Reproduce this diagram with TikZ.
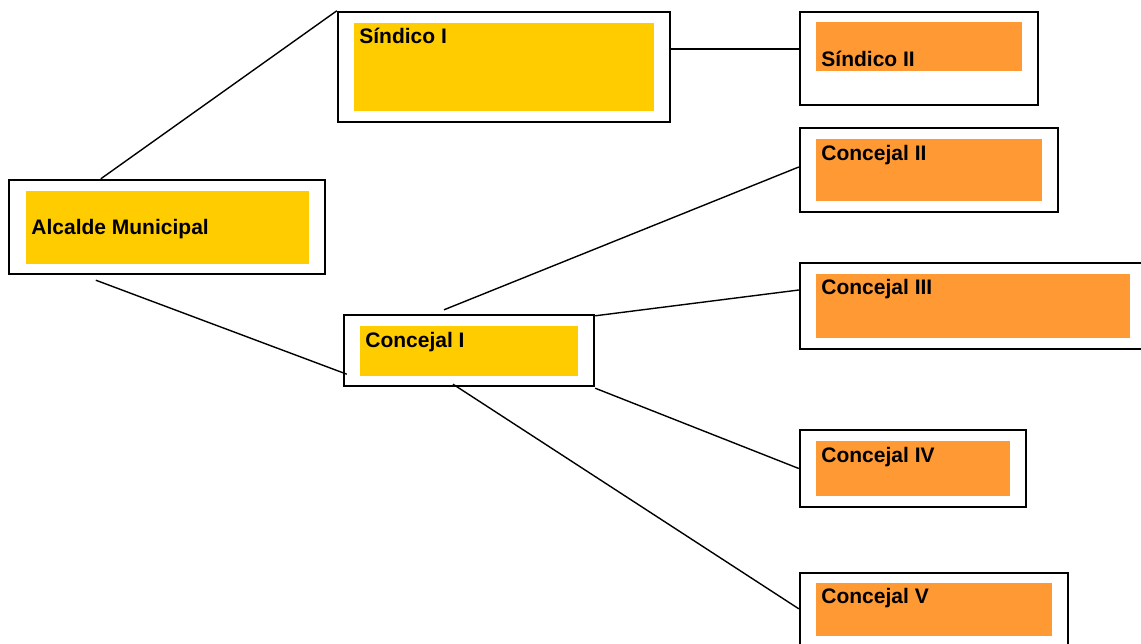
\documentclass[tikz,border=0pt]{standalone}
\usepackage{fontspec}
\setmainfont{Liberation Sans}
\usetikzlibrary{fit}

\definecolor{amarillo}{HTML}{FFCC00}
\definecolor{naranja}{HTML}{FF9933}

\tikzset{
  marco/.style={draw, line width=1.2pt, inner sep=0pt},
  relleno/.style={inner sep=0pt},
  rotulo/.style={anchor=base west, inner sep=0pt, font=\fontsize{10.5}{12}\selectfont\bfseries},
  linea/.style={line width=0.7pt}
}

\begin{document}
\begin{tikzpicture}[x=0.5pt,y=-0.5pt]

\useasboundingbox (0,0) rectangle (1141,643);
%	\draw[red] (0,0) rectangle (1141,643);

% alcalde y sindicos
\node[marco, fit={(9,180) (325,274)}] (alc) {};
\node[relleno, fill=amarillo, fit={(26,191) (309,264)}] (alcf) {};
\node[rotulo] (alct) at (31,234) {Alcalde Municipal};

\node[marco, fit={(338,12) (670,122)}] (sin1) {};
\node[relleno, fill=amarillo, fit={(354,23) (654,111)}] (sin1f) {};
\node[rotulo] (sin1t) at (359,43) {Síndico I};

\node[marco, fit={(800,12) (1038,105)}] (sin2) {};
\node[relleno, fill=naranja, fit={(816,22) (1022,71)}] (sin2f) {};
\node[rotulo] (sin2t) at (821,66) {Síndico II};

% concejales
\node[marco, fit={(344,315) (594,386)}] (con1) {};
\node[relleno, fill=amarillo, fit={(360,326) (578,376)}] (con1f) {};
\node[rotulo] (con1t) at (365,347) {Concejal I};

\node[marco, fit={(800,128) (1058,212)}] (con2) {};
\node[relleno, fill=naranja, fit={(816,139) (1042,201)}] (con2f) {};
\node[rotulo] (con2t) at (821,160) {Concejal II};

\node[marco, fit={(800,263) (1143,349)}] (con3) {};
\node[relleno, fill=naranja, fit={(816,274) (1130,338)}] (con3f) {};
\node[rotulo] (con3t) at (821,294) {Concejal III};

\node[marco, fit={(800,430) (1026,507)}] (con4) {};
\node[relleno, fill=naranja, fit={(816,441) (1010,496)}] (con4f) {};
\node[rotulo] (con4t) at (821,462) {Concejal IV};

\node[marco, fit={(800,573) (1068,650)}] (con5) {};
\node[relleno, fill=naranja, fit={(816,583) (1052,636)}] (con5f) {};
\node[rotulo] (con5t) at (821,603) {Concejal V};

% lineas
\draw[linea] ([xshift=46.5pt]alc.north west) -- (sin1.north west);
\draw[linea] ([xshift=44pt,yshift=-2.5pt]alc.south west) -- ([xshift=2pt,yshift=6.5pt]con1.south west);
\draw[linea] ([yshift=-19pt]sin1.north east) -- ([yshift=-19pt]sin2.north west);

\draw[linea] ([xshift=-12.5pt,yshift=2pt]con1.north) -- ([yshift=1.5pt]con2.west);
\draw[linea] ([yshift=-1pt]con1.north east) -- ([yshift=8pt]con3.west);
\draw[linea] ([yshift=-0.5pt]con1.south east) -- (con4.west);
\draw[linea] ([xshift=-8pt,yshift=1.5pt]con1.south) -- ([yshift=-18.5pt]con5.north west);

\end{tikzpicture}
\end{document}
